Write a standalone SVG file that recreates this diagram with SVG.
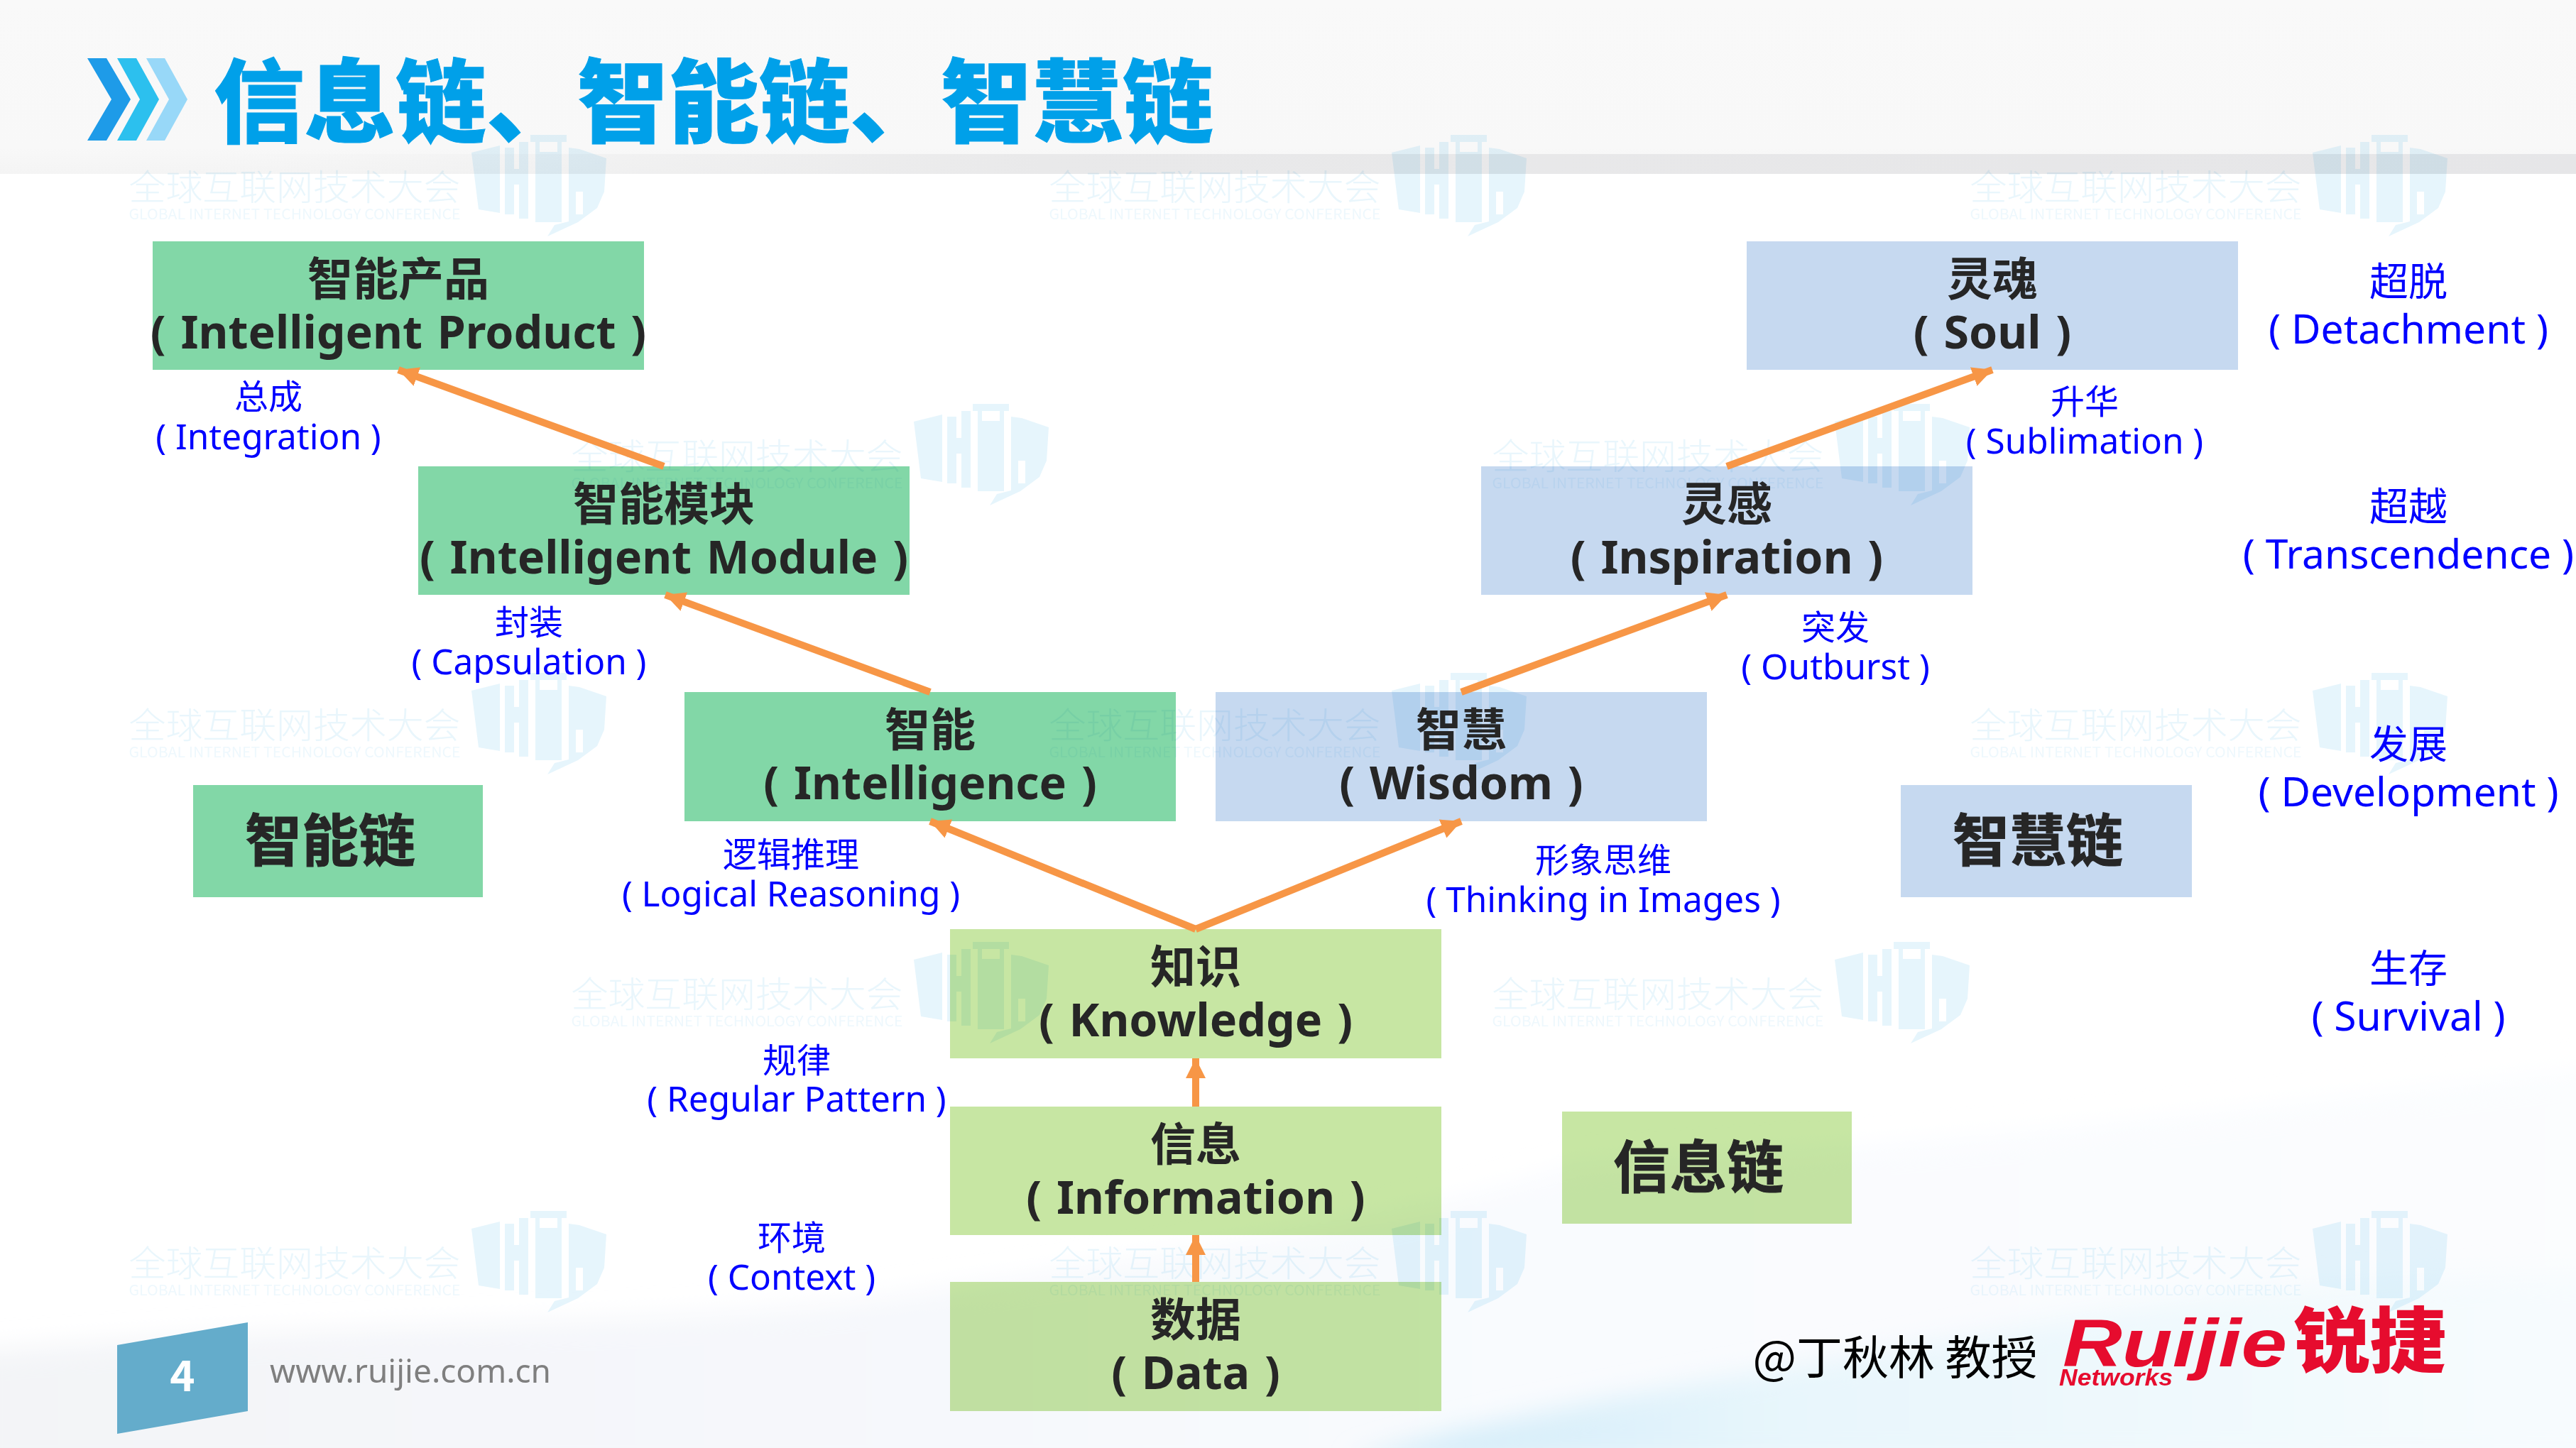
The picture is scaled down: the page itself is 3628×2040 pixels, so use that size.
<svg xmlns="http://www.w3.org/2000/svg" xmlns:xlink="http://www.w3.org/1999/xlink" width="3628" height="2040" viewBox="0 0 3628 2040">
<style>
text{font-family:"Noto Sans CJK SC","Noto Sans",sans-serif;text-anchor:middle}
.box{mix-blend-mode:multiply}
.g1{fill:#82d7a7}.g2{fill:#c7e6a3}.b1{fill:#c6d9f0}
.t{font-weight:700;font-size:64px;fill:#262626}
.e{font-weight:700;font-size:64.5px;word-spacing:4px;fill:#262626;font-family:"Noto Sans","Noto Sans CJK SC",sans-serif}
.c{font-weight:700;font-size:80px;fill:#262626;stroke:#262626;stroke-width:1}
.l{font-size:48px;fill:#0000ff}
.m{font-size:49.5px;fill:#0000ff;font-family:"Noto Sans","Noto Sans CJK SC",sans-serif}
.r{font-size:55px;fill:#0000ff}
.s{font-size:57px;fill:#0000ff;font-family:"Noto Sans","Noto Sans CJK SC",sans-serif}
.a{fill:none;stroke:#f79646;stroke-width:10;marker-end:url(#ah)}
</style>
<defs>
<linearGradient id="top" x1="0" y1="0" x2="0" y2="1"><stop offset="0" stop-color="#f9f9f9"/><stop offset=".85" stop-color="#f8f8f8"/><stop offset="1" stop-color="#f4f4f4"/></linearGradient>
<linearGradient id="fade" x1="0" y1="0" x2="1" y2="0"><stop offset="0" stop-color="#eeeeee" stop-opacity="0"/><stop offset=".35" stop-color="#e9e9ea"/><stop offset="1" stop-color="#e6e6e8"/></linearGradient>
<linearGradient id="sw" x1="0" y1="0" x2="1" y2="0"><stop offset="0" stop-color="#f3f4f7"/><stop offset=".35" stop-color="#f6f8fc"/><stop offset=".6" stop-color="#f9fbfe"/><stop offset="1" stop-color="#fbfdfe"/></linearGradient>
<linearGradient id="sw2" x1="0" y1="0" x2="1" y2="0"><stop offset="0" stop-color="#cfeaf8"/><stop offset=".35" stop-color="#e8f6fc"/><stop offset="1" stop-color="#f8fcfe"/></linearGradient>
<filter id="bl" x="-5%" y="-20%" width="110%" height="140%"><feGaussianBlur stdDeviation="18"/></filter>
<marker id="ah" markerUnits="userSpaceOnUse" markerWidth="30" markerHeight="30" refX="28" refY="14" orient="auto"><path d="M0,0L28,14L0,28z" fill="#f79646"/></marker>
<g id="wm" style="mix-blend-mode:multiply">
<text x="233" y="90" style="font-size:50px;fill:#e9f6fc;font-weight:300" textLength="467" lengthAdjust="spacingAndGlyphs">全球互联网技术大会</text>
<text x="233" y="117" style="font-size:20px;fill:#eef8fd" textLength="467" lengthAdjust="spacingAndGlyphs">GLOBAL INTERNET TECHNOLOGY CONFERENCE</text>
<path fill="#e6f5fc" fill-rule="evenodd" d="M482,23L522,13V108L492,103zM529,16H542V46H549V8H562V116H549V68H542V110H529zM565,-2H616V8H609V121H572V8H565zM578,8V22H603V8zM619,16L634,18L672,31L669,78L659,101L632,121L589,141L599,125L619,120zM629,78V110H639V78z"/>
</g>
</defs>
<g id="background">
<rect width="3628" height="2040" fill="#fff"/>
<rect width="3628" height="245" fill="url(#top)"/>
<rect x="300" y="217" width="3328" height="28" fill="url(#fade)"/>
<path d="M-40,1905C500,1860 1000,1870 1300,1820C1700,1760 2000,1720 2220,1640C2700,1620 3200,1560 3680,1500V2080H-40z" fill="url(#sw)" filter="url(#bl)"/>
<path d="M1900,2060C2100,1990 2500,1930 2900,1860C3200,1810 3400,1800 3680,1790V2060z" fill="url(#sw2)" filter="url(#bl)"/>
</g>
<g id="watermarks">
<use xlink:href="#wm" transform="translate(182,192)"/><use xlink:href="#wm" transform="translate(1478,192)"/><use xlink:href="#wm" transform="translate(2775,192)"/>
<use xlink:href="#wm" transform="translate(805,571)"/><use xlink:href="#wm" transform="translate(2102,571)"/>
<use xlink:href="#wm" transform="translate(182,950)"/><use xlink:href="#wm" transform="translate(1478,950)"/><use xlink:href="#wm" transform="translate(2775,950)"/>
<use xlink:href="#wm" transform="translate(805,1329)"/><use xlink:href="#wm" transform="translate(2102,1329)"/>
<use xlink:href="#wm" transform="translate(182,1708)"/><use xlink:href="#wm" transform="translate(1478,1708)"/><use xlink:href="#wm" transform="translate(2775,1708)"/>
</g>
<g id="title">
<path d="M123,82H150L184,140L150,198H123L157,140z" fill="#1e9be8"/>
<path d="M165,82H192L224,140L192,198H165L197,140z" fill="#2cc0ee"/>
<path d="M206,82H232L264,140L232,198H206L238,140z" fill="#98d8f8"/>
<text x="301" y="191" style="text-anchor:start;font-size:128px;font-weight:900;fill:#00a0e9;stroke:#00a0e9;stroke-width:1">信息链、智能链、智慧链</text>
</g>
<g id="node-product"><rect class="box g1" x="215" y="340" width="692" height="181"/><text class="t" x="561" y="416">智能产品</text><text class="e" x="561" y="491">( Intelligent Product )</text></g>
<g id="node-module"><rect class="box g1" x="589" y="657" width="692" height="181"/><text class="t" x="935" y="733">智能模块</text><text class="e" x="935" y="808">( Intelligent Module )</text></g>
<g id="node-intelligence"><rect class="box g1" x="964" y="975" width="692" height="182"/><text class="t" x="1310" y="1051">智能</text><text class="e" x="1310" y="1126">( Intelligence )</text></g>
<g id="node-wisdom"><rect class="box b1" x="1712" y="975" width="692" height="182"/><text class="t" x="2058" y="1051">智慧</text><text class="e" x="2058" y="1126">( Wisdom )</text></g>
<g id="node-knowledge"><rect class="box g2" x="1338" y="1309" width="692" height="182"/><text class="t" x="1684" y="1385">知识</text><text class="e" x="1684" y="1460">( Knowledge )</text></g>
<g id="node-information"><rect class="box g2" x="1338" y="1559" width="692" height="181"/><text class="t" x="1684" y="1635">信息</text><text class="e" x="1684" y="1710">( Information )</text></g>
<g id="node-data"><rect class="box g2" x="1338" y="1806" width="692" height="182"/><text class="t" x="1684" y="1882">数据</text><text class="e" x="1684" y="1957">( Data )</text></g>
<g id="node-inspiration"><rect class="box b1" x="2086" y="657" width="692" height="181"/><text class="t" x="2432" y="733">灵感</text><text class="e" x="2432" y="808">( Inspiration )</text></g>
<g id="node-soul"><rect class="box b1" x="2460" y="340" width="692" height="181"/><text class="t" x="2806" y="416">灵魂</text><text class="e" x="2806" y="491">( Soul )</text></g>
<g id="node-chain-smart"><rect class="box g1" x="272" y="1106" width="408" height="158"/><text class="c" x="465" y="1213">智能链</text></g>
<g id="node-chain-wisdom"><rect class="box b1" x="2677" y="1106" width="410" height="158"/><text class="c" x="2870" y="1213">智慧链</text></g>
<g id="node-chain-info"><rect class="box g2" x="2200" y="1566" width="408" height="158"/><text class="c" x="2392" y="1673">信息链</text></g>
<g id="connectors">
<path class="a" d="M1684,1559V1491"/>
<path class="a" d="M1684,1806V1740"/>
<path class="a" d="M1684,1309L1310,1157"/>
<path class="a" d="M1684,1309L2058,1157"/>
<path class="a" d="M1310,975L937,838"/>
<path class="a" d="M2058,975L2432,838"/>
<path class="a" d="M935,657L561,521"/>
<path class="a" d="M2432,657L2806,521"/>
</g>
<g id="labels">
<text class="l" x="378" y="576">总成</text><text class="m" x="378" y="633">( Integration )</text>
<text class="l" x="745" y="894">封装</text><text class="m" x="745" y="950">( Capsulation )</text>
<text class="l" x="1114" y="1221">逻辑推理</text><text class="m" x="1114" y="1277">( Logical Reasoning )</text>
<text class="l" x="1122" y="1511">规律</text><text class="m" x="1122" y="1566">( Regular Pattern )</text>
<text class="l" x="1115" y="1761">环境</text><text class="m" x="1115" y="1817">( Context )</text>
<text class="l" x="2936" y="583">升华</text><text class="m" x="2936" y="639">( Sublimation )</text>
<text class="l" x="2585" y="901">突发</text><text class="m" x="2585" y="957">( Outburst )</text>
<text class="l" x="2258" y="1229">形象思维</text><text class="m" x="2258" y="1285">( Thinking in Images )</text>
<text class="r" x="3392" y="416">超脱</text><text class="s" x="3392" y="484">( Detachment )</text>
<text class="r" x="3392" y="733">超越</text><text class="s" x="3392" y="801">( Transcendence )</text>
<text class="r" x="3392" y="1068">发展</text><text class="s" x="3392" y="1136">( Development )</text>
<text class="r" x="3392" y="1384">生存</text><text class="s" x="3392" y="1452">( Survival )</text>
</g>
<g id="footer">
<path d="M165,1895L349,1863V1988L165,2020z" fill="#64accb"/>
<text x="257" y="1960" style="font-size:60px;font-weight:700;fill:#fff">4</text>
<text x="578" y="1948" style="font-size:46px;fill:#7f7f7f;font-family:'Noto Sans',sans-serif">www.ruijie.com.cn</text>
<text x="2669" y="1936" style="font-size:65px;fill:#000">@丁秋林 教授</text>
<text x="2905" y="1925" style="text-anchor:start;font-family:'Liberation Sans',sans-serif;font-style:italic;font-weight:700;font-size:94px;fill:#e60c2e" textLength="316" lengthAdjust="spacingAndGlyphs">Ruijie</text>
<text x="3230" y="1925" style="text-anchor:start;font-weight:900;font-size:100px;fill:#e60c2e" textLength="215" lengthAdjust="spacingAndGlyphs">锐捷</text>
<text x="2900" y="1952" style="text-anchor:start;font-family:'Liberation Sans',sans-serif;font-style:italic;font-weight:700;font-size:34px;fill:#e60c2e" textLength="160" lengthAdjust="spacingAndGlyphs">Networks</text>
</g>
</svg>
